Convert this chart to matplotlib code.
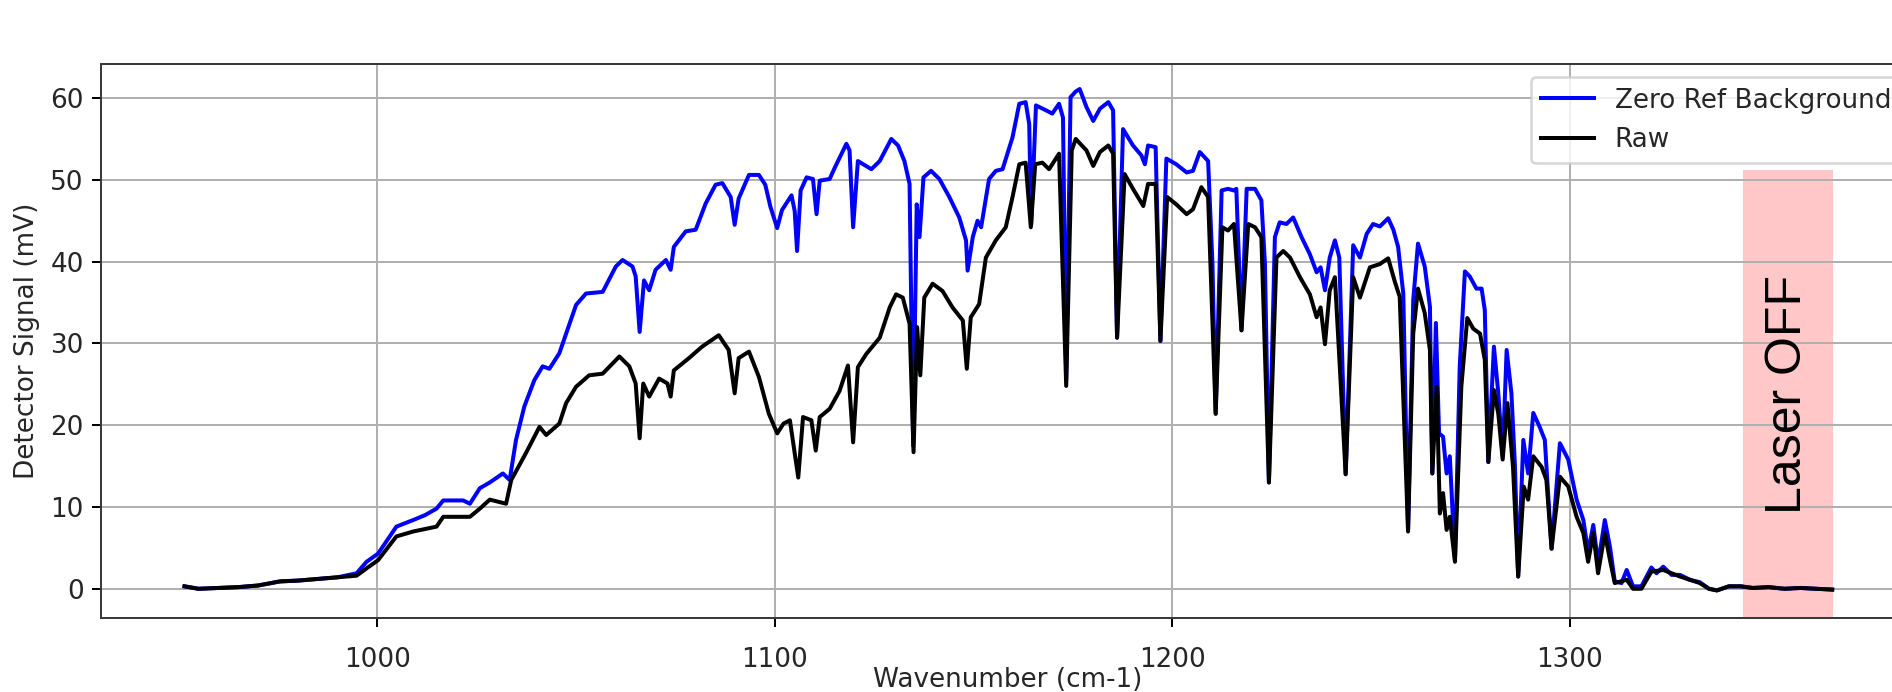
import matplotlib
matplotlib.use("Agg")
from matplotlib import pyplot as plt

# values
wn_zero = [951.5, 955, 960, 965, 970, 975.5, 980, 985, 990, 994.8, 997.3, 1000.2, 1004.8, 1009.0, 1012, 1014.9,
           1016.6, 1019, 1021.6, 1023.3, 1025.8, 1028.3, 1031.6, 1033.3, 1034.9, 1037.0, 1039.5, 1041.6, 1043.3,
           1045.8, 1047.5, 1050.0, 1052.5, 1056.7, 1060.0, 1061.7, 1064.2, 1065.0, 1066.0, 1067.1, 1068.4, 1070.0,
           1072.6, 1073.8, 1074.6, 1077.6, 1080.1, 1082.6, 1085.1, 1086.8, 1088.9, 1089.9, 1090.9, 1093.5, 1096.0,
           1097.6, 1098.9, 1100.6, 1101.8, 1104.2, 1105.0, 1105.6, 1106.5, 1108.0, 1109.6, 1110.5, 1111.3, 1113.8,
           1115.1, 1118.0, 1118.8, 1119.7, 1120.9, 1124.3, 1126.4, 1129.3, 1131.0, 1132.6, 1133.9, 1134.8, 1135.7,
           1136.4, 1137.4, 1139.3, 1141.4, 1143.9, 1146.4, 1148.1, 1148.5, 1149.8, 1151.0, 1151.9, 1153.9, 1155.6,
           1157.3, 1159.8, 1161.5, 1163.1, 1164.0, 1164.5, 1165.7, 1168.2, 1169.8, 1171.5, 1172.5, 1173.3, 1174.4,
           1175.7, 1176.7, 1178.4, 1180.1, 1181.8, 1183.9, 1185.1, 1186.1, 1187.6, 1190.1, 1192.2, 1193.1, 1193.9,
           1195.8, 1197.0, 1198.5, 1201.0, 1203.6, 1205.2, 1206.9, 1209.0, 1210.1, 1210.9, 1212.4, 1214.0, 1215.5,
           1216.1, 1217.4, 1218.7, 1220.8, 1222.4, 1223.3, 1224.3, 1225.8, 1227.0, 1228.7, 1230.4, 1232.5, 1234.6,
           1236.3, 1237.3, 1238.4, 1239.6, 1240.9, 1242.0, 1243.6, 1245.5, 1247.2, 1248.9, 1250.5, 1252.2, 1254.3,
           1255.6, 1256.8, 1258.1, 1259.3, 1260.6, 1261.8, 1263.5, 1264.8, 1265.4, 1266.3, 1267.1, 1268.1, 1269.0,
           1269.8, 1271.1, 1272.3, 1273.6, 1274.8, 1276.5, 1277.8, 1278.6, 1279.5, 1280.9, 1282.0, 1283.1, 1284.1,
           1285.3, 1286.2, 1287.0, 1288.3, 1289.5, 1290.8, 1292.4, 1293.7, 1295.4, 1297.5, 1299.6, 1301.7, 1303.4,
           1304.6, 1305.9, 1307.1, 1308.8, 1310.1, 1311.3, 1313.0, 1314.3, 1315.9, 1318.0, 1320.5, 1321.8, 1323.5,
           1325.6, 1327.7, 1330.2, 1332.7, 1335, 1337, 1340, 1343, 1346, 1350, 1354, 1358, 1362, 1366]
zero_ref = [0.3, 0.0, 0.1, 0.2, 0.4, 0.9, 1.0, 1.2, 1.4, 1.9, 3.3, 4.3, 7.6, 8.4, 9.0, 9.8,
            10.8, 10.8, 10.8, 10.4, 12.3, 13.0, 14.1, 13.3, 18.2, 22.3, 25.5, 27.2, 26.9,
            28.8, 31.2, 34.7, 36.1, 36.3, 39.4, 40.2, 39.4, 38.2, 31.4, 37.7, 36.5, 39.0,
            40.2, 39.0, 41.8, 43.7, 43.9, 47.1, 49.4, 49.6, 47.9, 44.5, 47.7, 50.6, 50.6,
            49.4, 46.7, 44.1, 46.3, 48.1, 46.2, 41.3, 48.7, 50.3, 50.1, 45.8, 49.9, 50.1,
            51.5, 54.4, 53.6, 44.2, 52.3, 51.3, 52.3, 55.0, 54.2, 52.3, 49.5, 17.5, 47.0,
            43.0, 50.3, 51.1, 50.1, 47.9, 45.4, 42.6, 38.9, 43.0, 45.0, 44.2, 50.1, 51.1,
            51.3, 55.2, 59.3, 59.5, 56.8, 44.5, 59.1, 58.5, 58.1, 59.3, 57.6, 25.5, 60.1,
            60.8, 61.1, 58.9, 57.2, 58.7, 59.5, 58.5, 30.7, 56.2, 54.2, 53.0, 51.9, 54.2,
            54.0, 30.3, 52.6, 51.9, 50.9, 51.1, 53.4, 52.3, 39.7, 21.4, 48.7, 48.9, 48.7,
            48.9, 31.6, 48.9, 48.9, 47.5, 39.7, 13.0, 43.0, 44.8, 44.6, 45.4, 43.0, 40.9,
            38.7, 39.3, 36.5, 40.5, 42.6, 40.5, 14.0, 42.0, 40.5, 43.4, 44.6, 44.3, 45.3,
            43.9, 41.8, 36.1, 7.2, 35.3, 42.2, 39.4, 34.5, 14.1, 32.5, 19.0, 18.6, 14.1,
            16.2, 3.5, 27.2, 38.8, 38.2, 36.7, 36.7, 34.1, 15.5, 29.6, 23.9, 16.2, 29.2,
            23.9, 14.9, 1.5, 18.2, 14.1, 21.5, 19.8, 18.2, 4.9, 17.8, 15.8, 10.9, 8.4,
            4.5, 7.8, 3.1, 8.4, 5.1, 0.9, 0.7, 2.3, 0.3, 0.3, 2.6, 1.9, 2.7,
            1.7, 1.7, 1.1, 0.8, 0.0, -0.2, 0.3, 0.3, 0.1, 0.2, 0.0, 0.1, 0.0, -0.1]

wn_raw = [951.5, 955, 960, 965, 970, 975.5, 980, 985, 990, 994.8, 997.3, 1000.2, 1004.8, 1009.0, 1014.9,
          1016.6, 1021.6, 1023.3, 1025.8, 1028.3, 1032.4, 1033.7, 1037.4, 1040.8, 1042.5, 1045.8, 1047.5,
          1050.0, 1053.3, 1056.7, 1060.9, 1063.4, 1065.0, 1066.0, 1066.9, 1068.4, 1070.9, 1073.0, 1073.8,
          1074.6, 1078.4, 1081.7, 1085.9, 1088.4, 1089.9, 1090.9, 1093.5, 1096.0, 1098.5, 1100.6, 1102.2,
          1103.8, 1105.9, 1107.1, 1109.2, 1110.3, 1111.3, 1113.8, 1116.3, 1118.4, 1119.7, 1120.9, 1123.0,
          1126.4, 1128.9, 1130.5, 1132.2, 1133.9, 1134.9, 1135.8, 1136.6, 1137.6, 1139.7, 1142.2, 1144.7,
          1147.3, 1148.3, 1149.3, 1151.4, 1153.1, 1155.6, 1158.1, 1159.8, 1161.5, 1163.1, 1164.4, 1165.5,
          1167.3, 1169.0, 1171.5, 1173.3, 1174.7, 1175.7, 1178.4, 1180.1, 1181.8, 1183.9, 1185.1, 1186.1,
          1188.0, 1190.1, 1192.7, 1193.9, 1195.8, 1197.0, 1198.7, 1201.0, 1203.6, 1205.2, 1207.3, 1209.0,
          1210.9, 1212.6, 1214.0, 1215.5, 1217.4, 1219.1, 1220.8, 1222.4, 1224.3, 1226.2, 1227.9, 1229.6,
          1232.1, 1234.6, 1236.3, 1237.3, 1238.4, 1239.6, 1240.9, 1243.6, 1245.5, 1247.2, 1249.7, 1252.2,
          1254.3, 1256.0, 1257.2, 1259.3, 1260.6, 1261.8, 1263.5, 1264.8, 1265.4, 1266.5, 1267.3, 1268.1,
          1269.0, 1269.8, 1271.1, 1272.7, 1274.2, 1275.7, 1277.4, 1278.6, 1279.5, 1280.9, 1282.0, 1283.1,
          1284.3, 1285.7, 1287.0, 1288.4, 1289.5, 1290.8, 1292.9, 1294.1, 1295.4, 1297.5, 1299.6, 1301.7,
          1303.4, 1304.6, 1305.9, 1307.1, 1308.8, 1310.1, 1311.3, 1314.3, 1315.9, 1318.0, 1320.5, 1323.5,
          1327.7, 1332.7, 1335, 1337, 1340, 1343, 1346, 1350, 1354, 1358, 1362, 1366]
raw = [0.3, 0.0, 0.1, 0.2, 0.4, 0.9, 1.0, 1.2, 1.4, 1.6, 2.5, 3.5, 6.4, 7.0, 7.6,
       8.8, 8.8, 8.8, 9.8, 10.9, 10.4, 13.3, 16.6, 19.8, 18.8, 20.2, 22.7,
       24.7, 26.1, 26.3, 28.4, 27.2, 25.1, 18.4, 25.1, 23.5, 25.7, 25.1, 23.5,
       26.7, 28.2, 29.6, 31.0, 29.2, 23.9, 28.2, 29.0, 25.9, 21.4, 19.0, 20.2,
       20.6, 13.6, 21.0, 20.6, 16.9, 21.0, 22.0, 24.2, 27.3, 17.9, 27.1, 28.7,
       30.7, 34.4, 36.0, 35.6, 32.4, 16.7, 32.0, 26.1, 35.6, 37.3, 36.4, 34.4,
       32.8, 26.9, 33.2, 34.8, 40.5, 42.6, 44.2, 47.9, 51.9, 52.1, 44.2, 51.9,
       52.1, 51.3, 53.2, 24.8, 53.6, 55.0, 53.6, 51.7, 53.4, 54.2, 53.2, 30.7,
       50.7, 48.9, 46.8, 49.5, 49.5, 30.3, 47.9, 47.0, 45.8, 46.4, 49.1, 47.9,
       21.4, 44.2, 43.8, 44.6, 31.6, 44.6, 44.2, 43.0, 13.0, 40.5, 41.3, 40.5,
       38.1, 36.0, 33.2, 34.4, 29.9, 36.5, 38.1, 14.0, 38.1, 35.6, 39.3, 39.7,
       40.4, 37.5, 35.7, 7.0, 31.2, 36.7, 33.7, 29.2, 14.1, 24.7, 9.2, 11.7,
       7.2, 8.8, 3.3, 24.7, 33.1, 31.8, 31.2, 28.0, 15.5, 24.3, 21.4, 15.8,
       22.7, 14.9, 1.5, 12.5, 10.9, 16.2, 14.9, 13.3, 4.9, 13.7, 12.5, 8.8,
       6.8, 3.3, 6.8, 1.9, 6.8, 3.5, 0.7, 1.1, 0.0, 0.0, 2.1, 2.3,
       1.5, 0.7, 0.0, -0.2, 0.3, 0.3, 0.1, 0.2, 0.0, 0.1, 0.0, -0.1]

laser_off = [1343.6, 1366.1]
laser_off_top = 51.2

plt.rcParams["font.size"] = 10.5
plt.rcParams["text.color"] = "#262626"
plt.rcParams["axes.labelcolor"] = "#262626"
plt.rcParams["axes.edgecolor"] = "#3a3a3a"
plt.rcParams["xtick.labelcolor"] = "#262626"
plt.rcParams["ytick.labelcolor"] = "#262626"
plt.rcParams["xtick.major.pad"] = 8

fig = plt.figure(figsize=(1892/180, 692/180), dpi=180)
ax = fig.add_axes([0.0536, 0.1072, 0.9585, 0.8003])

ax.plot(wn_zero, zero_ref, color="blue", lw=1.6, label="Zero Ref Background")
ax.plot(wn_raw, raw, color="black", lw=1.6, label="Raw")

ax.set_xlim(930.6, 1386.8)
ax.set_ylim(-3.55, 64.16)
ax.fill_between(laser_off, -3.55, laser_off_top, color="red", alpha=0.22, lw=0)
ax.text(sum(laser_off)/2, 23.7, "Laser OFF", rotation=90, ha="center", va="center",
        fontsize=20, family="Liberation Sans", color="black")

ax.set_xticks([1000, 1100, 1200, 1300])
ax.grid(True)
ax.set_xlabel("Wavenumber (cm-1)")
# keep the label just inside the bottom edge
ax.xaxis.set_label_coords(0.5, -0.088)
ax.set_ylabel("Detector Signal (mV)")
ax.legend(loc="upper right")

fig.savefig("out.png", dpi=180)
